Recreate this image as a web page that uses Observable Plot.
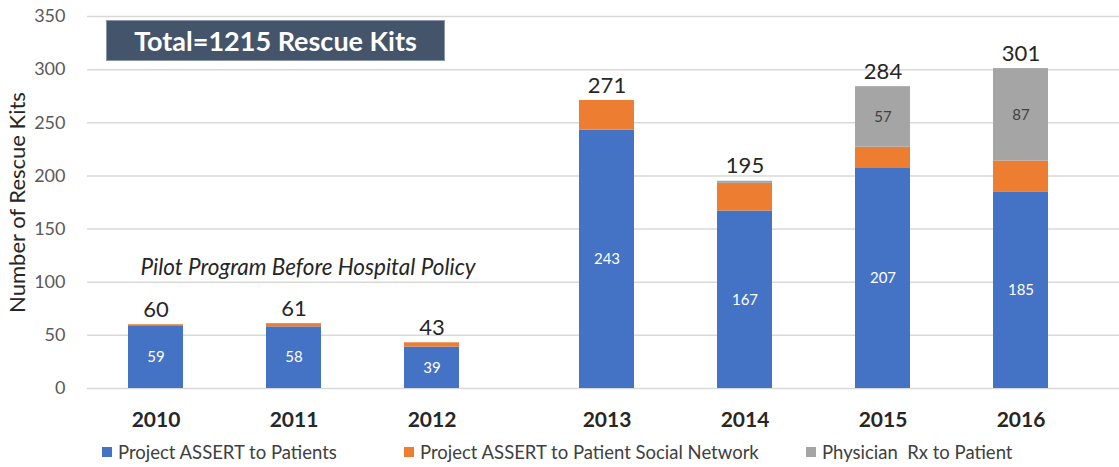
<!DOCTYPE html>
<html>
<head>
<meta charset="utf-8">
<script src="https://cdn.jsdelivr.net/npm/d3@7"></script>
<script src="https://cdn.jsdelivr.net/npm/@observablehq/plot@0.6"></script>
<style>
  html, body { margin: 0; padding: 0; background: #fff; }
  body { width: 1119px; height: 467px; overflow: hidden; position: relative; font-family: Lato, "Open Sans", sans-serif; }
  #chart { position: absolute; left: 0; top: 0; }
  #titlebox { position: absolute; left: 107px; top: 21px; width: 337px; height: 39px; background: #44546A;
    color: #fff; font-weight: bold; font-size: 27px; display: flex; align-items: center; justify-content: center;
    box-shadow: 0 0 0 1px #8a97a8; }
  .leg { position: absolute; top: 441px; font-size: 18.5px; color: #404040; display: flex; align-items: center; white-space: pre; }
  .leg span.sw { display: inline-block; width: 10px; height: 10px; margin-right: 6px; }
</style>
</head>
<body>
<div id="chart"></div>
<div id="titlebox">Total=1215 Rescue Kits</div>
<div id="legend"></div>
<script>
const years = ["2010", "2011", "2012", "2013", "2014", "2015", "2016"];
const pilotYears = ["2010", "2011", "2012"];
const seriesNames = ["Project ASSERT to Patients", "Project ASSERT to Patient Social Network", "Physician  Rx to Patient"];
const patients = [59, 58, 39, 243, 167, 207, 185];
const socialNetwork = [1, 3, 4, 28, 26, 20, 29];
const physicianRx = [0, 0, 0, 0, 2, 57, 87];
const seriesColors = ["#4472C4", "#ED7D31", "#A5A5A5"];
const yTicks = [0, 50, 100, 150, 200, 250, 300, 350];
const annotationText = "Pilot Program Before Hospital Policy";
const annotationAt = {year: "2011", value: 114};
const legendLeft = [102, 404, 806];
const policyShift = 37; // extra gap before hospital-policy years

const seriesValues = [patients, socialNetwork, physicianRx];
const data = [];
seriesNames.forEach((s, si) => {
  years.forEach((y, yi) => {
    const v = seriesValues[si][yi];
    let label = "";
    if (si === 0) label = String(v);
    if (si === 2 && v >= 10) label = String(v);
    data.push({year: y, series: s, value: v, label, si, pilot: pilotYears.includes(y)});
  });
});
const totals = years.map((y, yi) => ({year: y, total: seriesValues.reduce((a, arr) => a + arr[yi], 0), pilot: pilotYears.includes(y)}));

function groupMarks(rows, tots, ticks, shift) {
  return [
    Plot.barY(rows, Plot.stackY({x: "year", y: "value", fill: "series", z: "series", order: "si", dx: shift})),
    Plot.text(rows, Plot.stackY({x: "year", y: "value", z: "series", order: "si", text: "label", dx: shift,
      fill: d => d.si === 0 ? "#ffffff" : "#404040", fontSize: 15})),
    Plot.text(tots, {x: "year", y: "total", text: d => String(d.total), dx: shift, dy: -15, fontSize: 22, fill: "#262626"}),
    Plot.axisX(ticks, {tickSize: 0, tickPadding: 24, fontSize: 21, fontWeight: "bold", color: "#262626", dx: shift, label: null})
  ];
}

const chart = Plot.plot({
  width: 1119,
  height: 440,
  marginLeft: 87,
  marginRight: 0,
  marginTop: 16,
  marginBottom: 52,
  style: {fontFamily: "Lato, 'Open Sans', sans-serif", background: "transparent"},
  x: {domain: years, range: [87, 1053], paddingInner: 0.6, paddingOuter: 0.3, label: null, axis: null},
  y: {domain: [0, 350], label: null},
  color: {domain: seriesNames, range: seriesColors},
  marks: [
    Plot.gridY(yTicks, {stroke: "#d9d9d9", strokeOpacity: 1, strokeWidth: 1.5}),
    Plot.axisY(yTicks, {tickSize: 0, tickPadding: 22, fontSize: 18, color: "#595959", label: null}),
    Plot.axisY([], {label: "Number of Rescue Kits", labelAnchor: "center", labelArrow: "none", labelOffset: 78, fontSize: 22, color: "#262626"}),
    ...groupMarks(data.filter(d => d.pilot), totals.filter(d => d.pilot), pilotYears, 0),
    ...groupMarks(data.filter(d => !d.pilot), totals.filter(d => !d.pilot), years.filter(y => !pilotYears.includes(y)), policyShift),
    Plot.text([annotationAt], {x: "year", y: "value", dx: 14, text: () => annotationText, fontSize: 22.5, fontStyle: "italic", fill: "#262626"})
  ]
});
document.getElementById("chart").appendChild(chart);

const legend = document.getElementById("legend");
seriesNames.forEach((s, i) => {
  const el = document.createElement("div");
  el.className = "leg";
  el.style.left = legendLeft[i] + "px";
  el.innerHTML = `<span class="sw" style="background:${seriesColors[i]}"></span>`;
  el.appendChild(document.createTextNode(s));
  legend.appendChild(el);
});
</script>
</body>
</html>
